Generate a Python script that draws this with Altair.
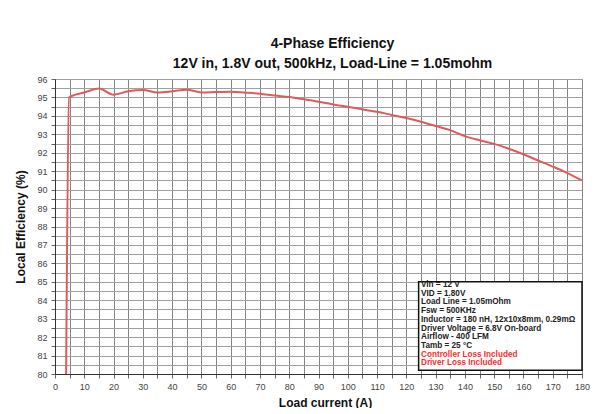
import altair as alt
import pandas as pd

# Efficiency curve
load_a = [3.8, 4.8, 7, 10, 15, 20, 25, 30, 35, 40, 45, 50, 55, 60, 65, 70, 75,
          80, 85, 90, 95, 100, 105, 110, 115, 120, 125, 130, 135, 140, 145,
          150, 155, 160, 165, 170, 175, 180]
eff_pct = [80.0, 95.0, 95.15, 95.27, 95.49, 95.15, 95.33, 95.4, 95.27, 95.33,
           95.42, 95.27, 95.29, 95.31, 95.26, 95.2, 95.1, 95.02, 94.9, 94.77,
           94.62, 94.49, 94.36, 94.22, 94.05, 93.88, 93.68, 93.45, 93.23,
           92.9, 92.68, 92.48, 92.22, 91.92, 91.58, 91.25, 90.9, 90.5]

x_grid = list(range(0, 181, 5))
y_grid = [80 + 0.5 * i for i in range(33)]

black_lines = ["Vin = 12 V", "VID = 1.80V", "Load Line = 1.05mOhm", "Fsw = 500KHz",
               "Inductor = 180 nH, 12x10x8mm, 0.29m\u03a9",
               "Driver Voltage = 6.8V On-board", "Airflow - 400 LFM", "Tamb = 25 \u00b0C"]
red_lines = ["Controller Loss Included", "Driver Loss Included"]

box_x = [124.2, 180]
box_y = [80.2, 85.0]

df = pd.DataFrame({"load": load_a, "eff": eff_pct})
box_df = pd.DataFrame({"x1": [box_x[0]], "x2": [box_x[1]], "y1": [box_y[0]], "y2": [box_y[1]]})

FONT = "Liberation Sans"

xs = alt.Scale(domain=[0, 180], nice=False, zero=False)
ys = alt.Scale(domain=[80, 96], nice=False, zero=False)

x_axis = alt.Axis(
    values=x_grid, labelExpr="datum.value % 10 == 0 ? format(datum.value, 'd') : ''",
    title="Load current (A)", titleFontSize=12, titleFontWeight="bold", titleColor="#111",
    titleY=32, titleBaseline="alphabetic", titleX=270,
    labelFontSize=9, labelColor="#444", labelPadding=4, tickSize=4, tickColor="#666",
    domainColor="#333", gridColor="#858585", gridWidth=1, labelFlush=False,
    labelOverlap=False)
y_axis = alt.Axis(
    values=y_grid, labelExpr="datum.value % 1 == 0 ? format(datum.value, 'd') : ''",
    title="Local Efficiency (%)", titleFontSize=12, titleFontWeight="bold", titleColor="#111",
    titleX=-35, titleY=147.5, titleBaseline="middle", titleAlign="center", titleAngle=270,
    labelFontSize=9, labelColor="#444", labelPadding=4, tickSize=4, tickColor="#666",
    domainColor="#333", gridColor="#a0a0a0", gridWidth=1, labelFlush=False,
    labelOverlap=False)

line = alt.Chart(df).mark_line(color="#e05a5a", strokeWidth=2, interpolate="monotone").encode(
    x=alt.X("load:Q", scale=xs, axis=x_axis),
    y=alt.Y("eff:Q", scale=ys, axis=y_axis),
)

box = alt.Chart(box_df).mark_rect(fill="white", stroke="#111", strokeWidth=1.5).encode(
    x=alt.X("x1:Q", scale=xs, axis=x_axis), x2="x2:Q",
    y=alt.Y("y1:Q", scale=ys, axis=y_axis), y2="y2:Q")

txt_black = alt.Chart(box_df).mark_text(
    text=black_lines, align="left", baseline="middle", fontSize=8.2, fontWeight="bold",
    font=FONT, color="#222", lineHeight=8.7).encode(
    x=alt.value(366), y=alt.value(206))

txt_red = alt.Chart(box_df).mark_text(
    text=red_lines, align="left", baseline="middle", fontSize=8.2, fontWeight="bold",
    font=FONT, color="#ff2a2a", lineHeight=8.7).encode(
    x=alt.value(366), y=alt.value(206 + 8 * 8.7))

chart = alt.layer(line, box, txt_black, txt_red).properties(
    width=527, height=295,
    title=alt.TitleParams(
        text=["4-Phase Efficiency", "12V in, 1.8V out, 500kHz, Load-Line = 1.05mohm"],
        fontSize=14, fontWeight="bold", font=FONT, color="#111", lineHeight=20,
        anchor="middle", dx=14, offset=4),
    autosize=alt.AutoSizeParams(type="none"),
    padding={"left": 47, "top": 71, "right": 20, "bottom": 34},
).configure(font=FONT).configure_view(stroke="#999")

chart.save("out.html", embed_options={"renderer": "svg", "actions": False})
